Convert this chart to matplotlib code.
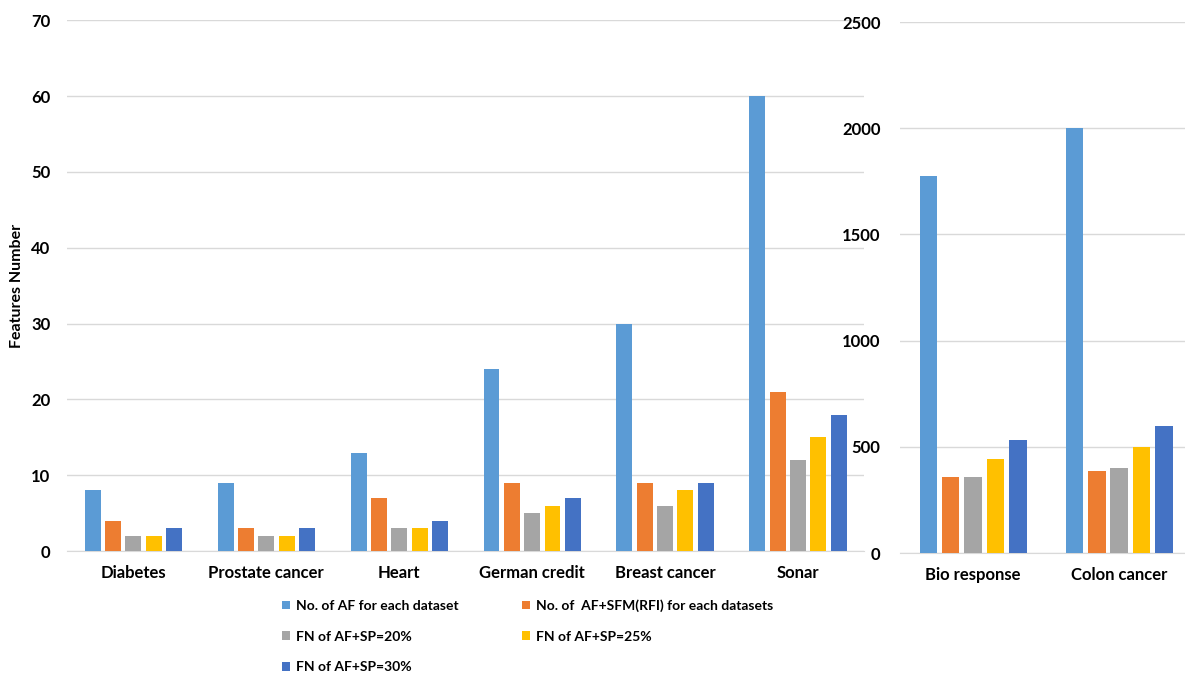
import numpy as np
import matplotlib.pyplot as plt

# small-feature datasets (left panel)
cats_left = ["Diabetes", "Prostate cancer", "Heart", "German credit", "Breast cancer", "Sonar"]
af_left = [8, 9, 13, 24, 30, 60]
rfi_left = [4, 3, 7, 9, 9, 21]
sp20_left = [2, 2, 3, 5, 6, 12]
sp25_left = [2, 2, 3, 6, 8, 15]
sp30_left = [3, 3, 4, 7, 9, 18]

# large-feature datasets (right panel)
cats_right = ["Bio response", "Colon cancer"]
af_right = [1776, 2000]
rfi_right = [356, 386]
sp20_right = [356, 400]
sp25_right = [445, 500]
sp30_right = [533, 600]

labels = ["No. of AF for each dataset", "No. of  AF+SFM(RFI) for each datasets",
          "FN of AF+SP=20%", "FN of AF+SP=25%", "FN of AF+SP=30%"]
colors = ["#5B9BD5", "#ED7D31", "#A5A5A5", "#FFC000", "#4472C4"]

plt.rcParams['font.family'] = ['Lato', 'DejaVu Sans']
plt.rcParams['font.weight'] = 'bold'

fig = plt.figure(figsize=(11.85, 6.77), dpi=100)
ax1 = fig.add_axes([0.0565, 0.186, 0.673, 0.784])
ax2 = fig.add_axes([0.7595, 0.183, 0.2405, 0.7845])

width = 0.12
step = 0.153

def draw(ax, cats, series):
    x = np.arange(len(cats))
    bars = []
    for i, vals in enumerate(series):
        b = ax.bar(x + (i - 2) * step, vals, width, color=colors[i], label=labels[i], zorder=3)
        bars.append(b)
    ax.set_xticks(x)
    ax.set_xticklabels(cats, fontsize=12, fontweight='bold')
    for s in ["top", "right", "left"]:
        ax.spines[s].set_visible(False)
    ax.spines["bottom"].set_color("#D9D9D9")
    ax.grid(axis="y", color="#D9D9D9", linewidth=1, zorder=0)
    ax.tick_params(length=0, labelsize=12, pad=10)
    return bars

bars = draw(ax1, cats_left, [af_left, rfi_left, sp20_left, sp25_left, sp30_left])
ax1.set_xlim(-0.5, 5.5)
ax1.set_ylim(0, 70)
ax1.set_yticks(range(0, 71, 10))
ax1.tick_params(axis='y', pad=12)
ax1.set_ylabel("Features Number", fontsize=11.5, fontweight='bold', labelpad=5)

draw(ax2, cats_right, [af_right, rfi_right, sp20_right, sp25_right, sp30_right])
ax2.set_xlim(-0.5, 1.45)
ax2.set_ylim(0, 2500)
ax2.set_yticks(range(0, 2501, 500))
ax2.tick_params(axis='y', pad=14)

order = [0, 2, 4, 1, 3]
fig.legend([bars[i] for i in order], [labels[i] for i in order],
           ncol=2, loc="upper left", bbox_to_anchor=(0.233, 0.123),
           frameon=False, handlelength=0.6, handleheight=0.6,
           handletextpad=0.4, columnspacing=4.6, labelspacing=1.35,
           borderaxespad=0, prop={'weight': 'bold', 'size': 10})

fig.savefig("out.png", dpi=100, facecolor="white")
